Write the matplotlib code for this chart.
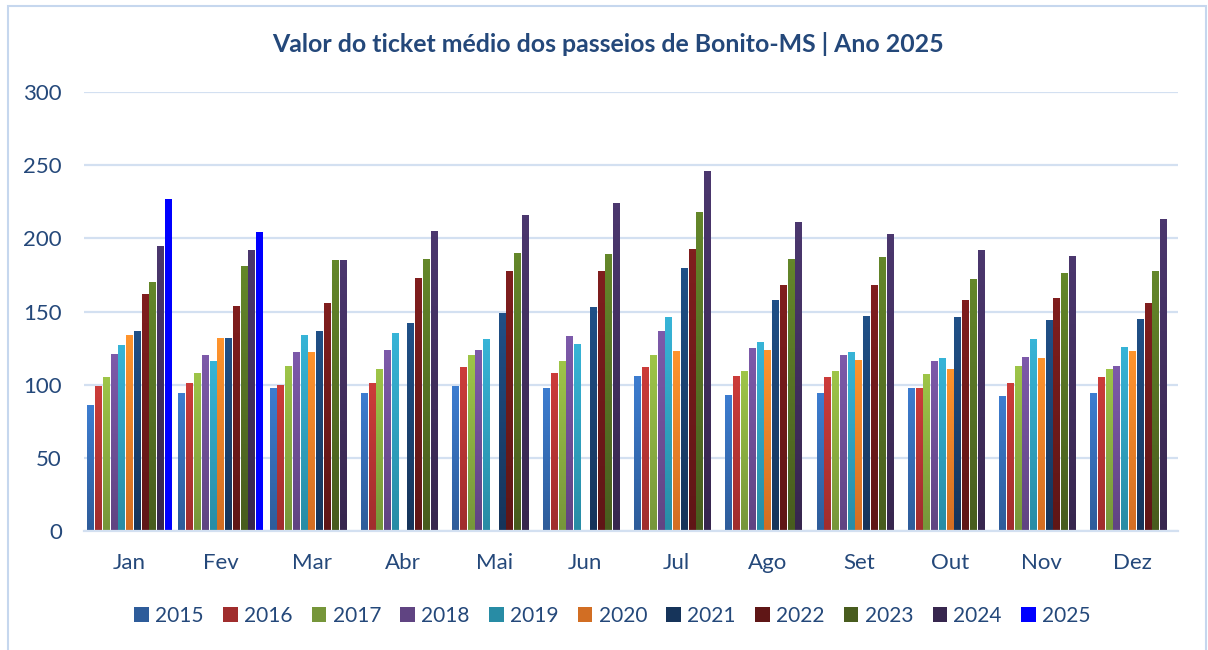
import numpy as np
import matplotlib
matplotlib.use("Agg")
import matplotlib.pyplot as plt
from matplotlib.colors import LinearSegmentedColormap
from matplotlib.patches import Patch, Rectangle

plt.rcParams["font.family"] = ["Lato", "DejaVu Sans"]

NAN = np.nan
months = ["Jan", "Fev", "Mar", "Abr", "Mai", "Jun",
          "Jul", "Ago", "Set", "Out", "Nov", "Dez"]
years = ["2015", "2016", "2017", "2018", "2019", "2020",
         "2021", "2022", "2023", "2024", "2025"]

# ticket médio (R$) por mês, um vetor por ano
v2015 = [86, 94, 98, 94, 99, 98, 106, 93, 94, 98, 92, 94]
v2016 = [99, 101, 100, 101, 112, 108, 112, 106, 105, 98, 101, 105]
v2017 = [105, 108, 113, 111, 120, 116, 120, 109, 109, 107, 113, 111]
v2018 = [121, 120, 122, 124, 124, 133, 137, 125, 120, 116, 119, 113]
v2019 = [127, 116, 134, 135, 131, 128, 146, 129, 122, 118, 131, 126]
v2020 = [134, 132, 122, NAN, NAN, NAN, 123, 124, 117, 111, 118, 123]
v2021 = [137, 132, 137, 142, 149, 153, 180, 158, 147, 146, 144, 145]
v2022 = [162, 154, 156, 173, 178, 178, 193, 168, 168, 158, 159, 156]
v2023 = [170, 181, 185, 186, 190, 189, 218, 186, 187, 172, 176, 178]
v2024 = [195, 192, 185, 205, 216, 224, 246, 211, 203, 192, 188, 213]
v2025 = [227, 204, NAN, NAN, NAN, NAN, NAN, NAN, NAN, NAN, NAN, NAN]
series = [v2015, v2016, v2017, v2018, v2019, v2020,
          v2021, v2022, v2023, v2024, v2025]

# cor do topo e da base de cada barra (gradiente)
tops = ["#3D7DD0", "#CC3C3A", "#9EC548", "#7D5AAA", "#37B4D7", "#FF942D",
        "#205087", "#801E1E", "#64872A", "#4B376E", "#0000FF"]
bots = ["#2E5C9A", "#A02D2D", "#76963A", "#604482", "#288CA5", "#D26E23",
        "#16345A", "#5F1616", "#485C1E", "#37264E", "#0000FF"]

TXT = "#24487A"
GRID = "#D3E0F1"

fig = plt.figure(figsize=(12.08, 6.5), dpi=100)
ax = fig.add_axes([84 / 1208, 1 - 531 / 650, (1178 - 84) / 1208, (531 - 92) / 650])

x = np.arange(len(months))
n = len(series)
slot = 0.938 / n
grad = np.linspace(0, 1, 64).reshape(-1, 1)

for i, vals in enumerate(series):
    pos = x - 0.469 + slot * (i + 0.5)
    bars = ax.bar(pos, vals, width=slot * 0.88, color=tops[i], zorder=2)
    cmap = LinearSegmentedColormap.from_list(f"g{i}", [bots[i], tops[i]])
    for b in bars:
        h = b.get_height()
        if not np.isfinite(h) or h == 0:
            continue
        x0 = b.get_x()
        im = ax.imshow(grad, extent=(x0, x0 + b.get_width(), 0, h),
                       origin="lower", cmap=cmap, aspect="auto", zorder=2.1)
        im.set_clip_path(b)

ax.set_xlim(-0.5, len(months) - 0.5)
ax.set_ylim(0, 300)
ax.set_aspect("auto")
ax.set_yticks(np.arange(0, 301, 50))
ax.set_xticks(x)
ax.set_xticklabels(months)
ax.yaxis.grid(True, color=GRID, lw=1.6, zorder=0)
ax.set_axisbelow(True)
for s in ["top", "right", "left"]:
    ax.spines[s].set_visible(False)
ax.spines["bottom"].set_color(GRID)
ax.spines["bottom"].set_linewidth(1.6)
ax.tick_params(axis="y", length=0, labelsize=16, labelcolor=TXT, pad=16)
ax.tick_params(axis="x", length=0, labelsize=16, labelcolor=TXT, pad=16)

fig.text(0.503, 0.933, "Valor do ticket médio dos passeios de Bonito-MS | Ano 2025",
         ha="center", va="center", fontsize=17.9, fontweight="bold", color=TXT)

handles = [Patch(facecolor=tops[i] if i == 10 else bots[i], label=years[i])
           for i in range(n)]
fig.legend(handles=handles, loc="center", bbox_to_anchor=(0.507, 0.053),
           ncol=n, frameon=False, fontsize=15, labelcolor=TXT,
           handlelength=0.7, handleheight=0.7, handletextpad=0.3,
           columnspacing=0.93)

# moldura do gráfico
fig.patches.append(Rectangle((8 / 1208, -0.05), 1198 / 1208, 1.05 - 6 / 650,
                             transform=fig.transFigure, fill=False,
                             edgecolor="#C6D7EE", lw=1.5))

fig.savefig("out.png", dpi=100)
